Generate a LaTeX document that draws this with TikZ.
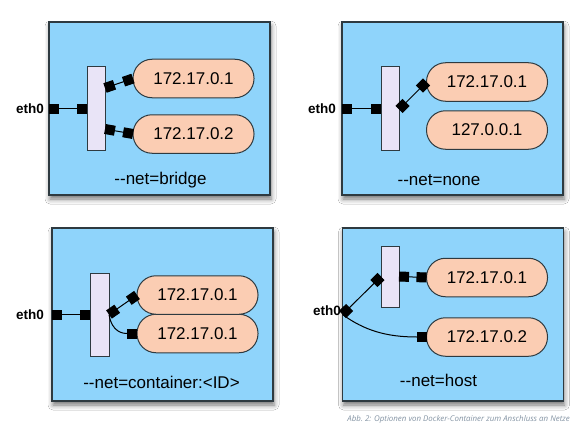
\documentclass[tikz,border=0pt]{standalone}
\usepackage{fontspec}
\setmainfont{Liberation Sans}
\newfontfamily\capfont{Open Sans}
\usetikzlibrary{arrows.meta,shadows.blur}
\definecolor{boxblue}{HTML}{8FD4FB}
\definecolor{boxedge}{HTML}{2E3A40}
\definecolor{pillfill}{HTML}{FBCDB3}
\definecolor{barfill}{HTML}{E9E4F7}
\definecolor{capgray}{HTML}{8494A4}
\begin{document}
\begin{tikzpicture}[x=1pt,y=-1pt,
  panel/.style={draw=boxedge,line width=1.3pt,fill=boxblue,minimum width=221pt,minimum height=173pt,inner sep=0pt,outer sep=0pt,
    blur shadow={shadow xshift=1pt,shadow yshift=-4pt,shadow blur radius=5pt,shadow opacity=55}},
  bar/.style={draw=boxedge,line width=1pt,fill=barfill,minimum width=18pt,inner sep=0pt,outer sep=0pt},
  pill/.style={draw=boxedge,line width=1pt,fill=pillfill,rounded corners=19pt,minimum width=121pt,minimum height=38.5pt,inner sep=0pt,outer sep=0pt,font=\fontsize{17pt}{20pt}\selectfont},
  lbl/.style={font=\fontsize{17pt}{20pt}\selectfont,inner sep=0pt},
  ethlbl/.style={font=\fontsize{13.5pt}{16pt}\selectfont\bfseries,inner sep=0pt,anchor=east},
  sq/.style={line width=1pt,{Square[length=10pt,width=10pt]}-{Square[length=10pt,width=10pt]}},
  sqend/.style={line width=1pt,-{Square[length=10pt,width=10pt]}}
]
\useasboundingbox (0,0) rectangle (586,436);
\fill[white] (0,0) rectangle (586,436);

% Panel 1: bridge
\node[panel] (b1) at (159.5,108.5) {};
\node[bar,minimum height=83pt] (r1) at (96,108.5) {};
\node[pill] (p11) at (193.5,78.5) {172.17.0.1};
\node[pill] (p12) at (193.5,134) {172.17.0.2};
\node[lbl] (l1) at (160.5,180) {-{}-net=bridge};
\node[ethlbl] (e1) at (44,108.5) {eth0};
\draw[sq] (b1.west) -- (r1.west);
\draw[sq] ([yshift=20.5pt]r1.east) -- (p11.west);
\draw[sq] ([yshift=-20.5pt]r1.east) -- (p12.west);

% Panel 2: none
\node[panel] (b2) at (452.5,108.5) {};
\node[bar,minimum height=83pt] (r2) at (390,108.5) {};
\node[pill] (p21) at (487,82) {172.17.0.1};
\node[pill] (p22) at (487,130) {127.0.0.1};
\node[lbl] (l2) at (439,180) {-{}-net=none};
\node[ethlbl] (e2) at (336,108.5) {eth0};
\draw[sq] (b2.west) -- (r2.west);
\draw[sq] ([yshift=-1pt]r2.east) -- (p21.west);

% Panel 3: container
\node[panel] (b3) at (162.5,314.5) {};
\node[bar,minimum height=83pt,minimum width=19pt] (r3) at (99.5,314.5) {};
\node[pill] (p32) at (197.5,333.5) {172.17.0.1};
\node[pill] (p31) at (197.5,295) {172.17.0.1};
\node[lbl] (l3) at (161.5,382) {-{}-net=container:<ID>};
\node[ethlbl] (e3) at (44,314.5) {eth0};
\draw[sq] (b3.west) -- (r3.west);
\draw[sqend] (r3.east) .. controls +(3,18) and +(-14,0) .. (p32.west);
\draw[sq] (r3.east) -- (p31.west);

% Panel 4: host
\node[panel] (b4) at (453,314.5) {};
\node[bar,minimum height=61pt] (r4) at (390,276.5) {};
\node[pill] (p41) at (487,277.5) {172.17.0.1};
\node[pill] (p42) at (487,337) {172.17.0.2};
\node[lbl] (l4) at (438.5,380) {-{}-net=host};
\node[ethlbl] (e4) at (341,311) {eth0};
\draw[sqend] (b4.west) .. controls +(22,16) and +(-40,0) .. (p42.west);
\draw[sq] (b4.west) -- (r4.west);
\draw[sq] (r4.east) -- (p41.west);

% Caption
\node[anchor=east,inner sep=0pt,text=capgray,font=\capfont\itshape\fontsize{7.9pt}{9pt}\selectfont] (cap) at (570,419) {Abb.~2: Optionen von Docker-Container zum Anschluss an Netze};
\end{tikzpicture}
\end{document}
